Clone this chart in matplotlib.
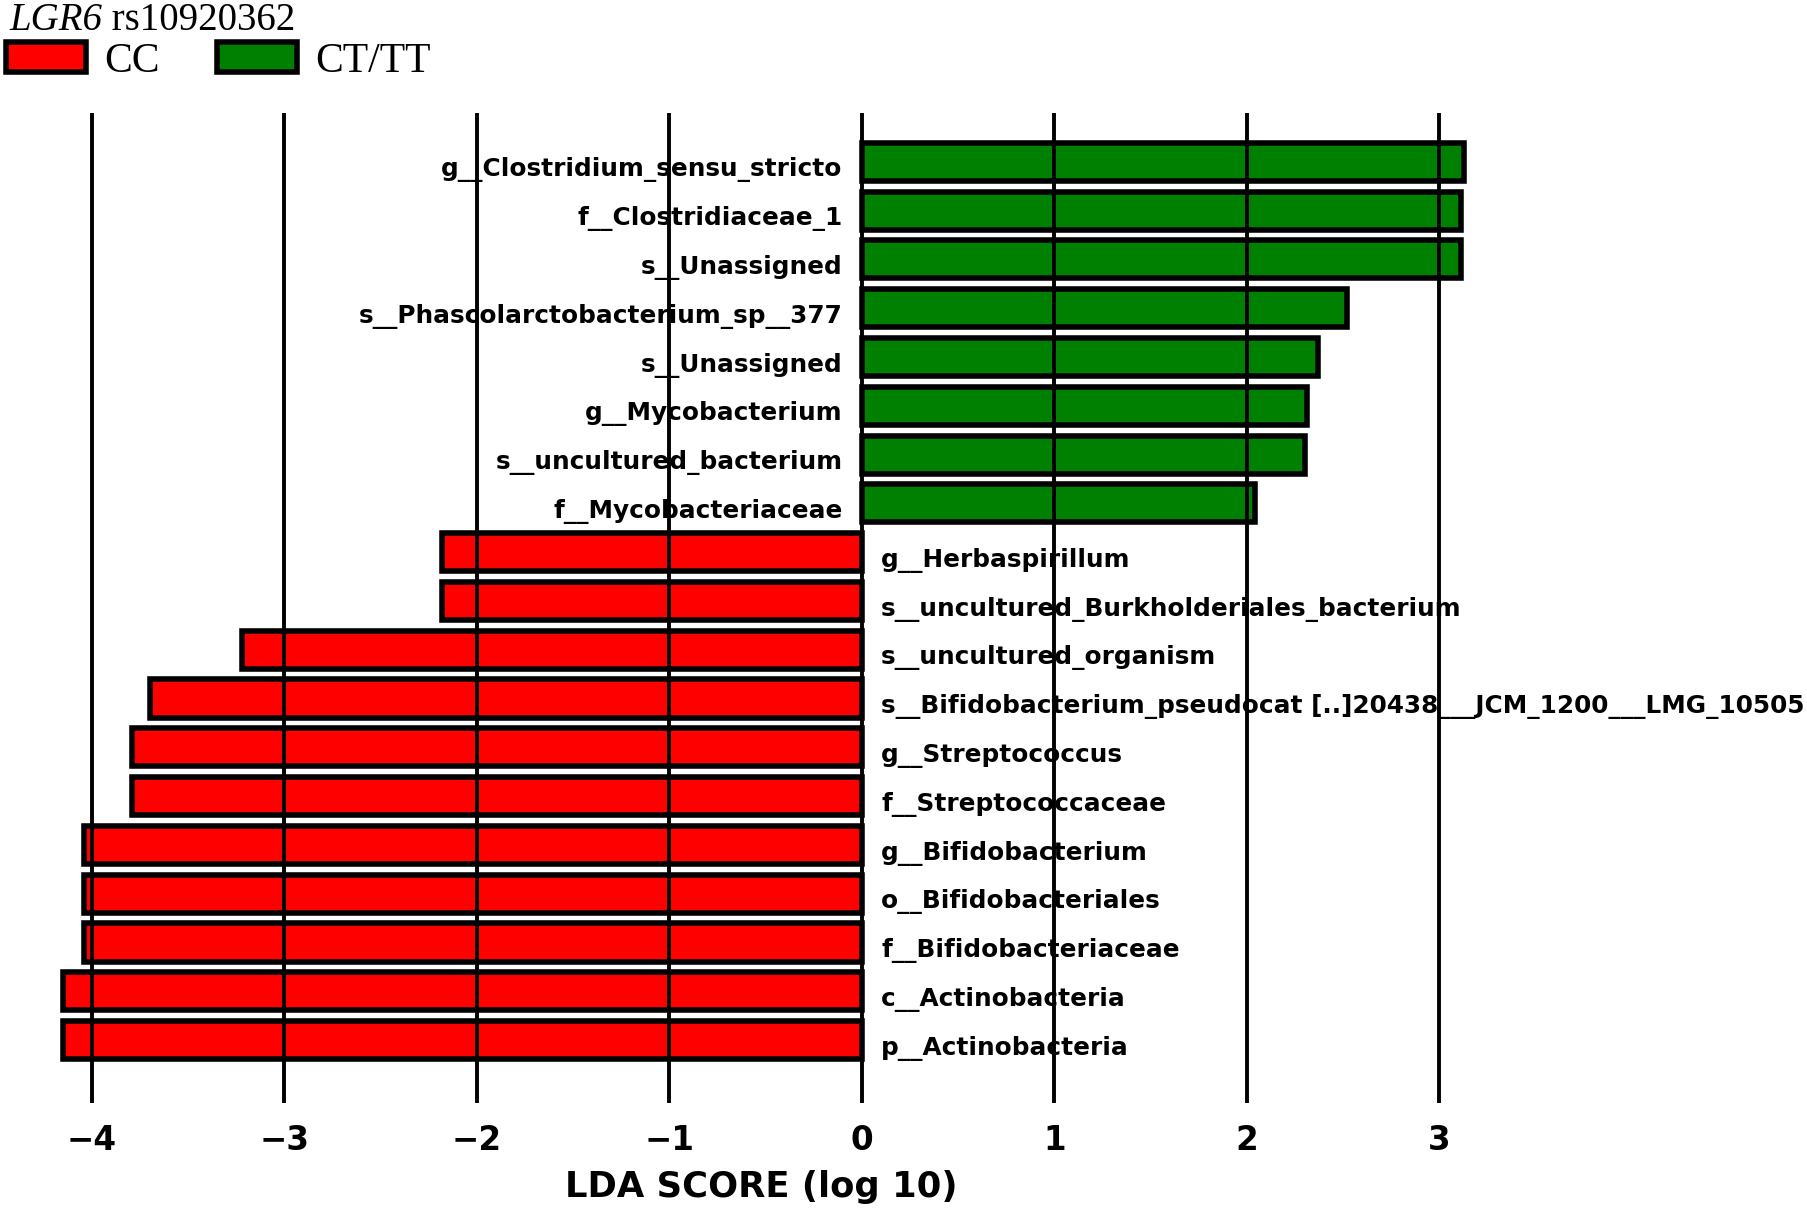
import matplotlib
matplotlib.use("Agg")
import matplotlib.pyplot as plt
from matplotlib.patches import Patch

plt.rcParams['font.family'] = ['DejaVu Sans']

# features, top to bottom as drawn
features = [
    "g__Clostridium_sensu_stricto",
    "f__Clostridiaceae_1",
    "s__Unassigned",
    "s__Phascolarctobacterium_sp__377",
    "s__Unassigned",
    "g__Mycobacterium",
    "s__uncultured_bacterium",
    "f__Mycobacteriaceae",
    "g__Herbaspirillum",
    "s__uncultured_Burkholderiales_bacterium",
    "s__uncultured_organism",
    "s__Bifidobacterium_pseudocat [..]20438___JCM_1200___LMG_10505",
    "g__Streptococcus",
    "f__Streptococcaceae",
    "g__Bifidobacterium",
    "o__Bifidobacteriales",
    "f__Bifidobacteriaceae",
    "c__Actinobacteria",
    "p__Actinobacteria",
]
lda = [3.13, 3.11, 3.11, 2.52, 2.37, 2.31, 2.30, 2.04,
       -2.18, -2.18, -3.22, -3.70, -3.79, -3.79,
       -4.04, -4.04, -4.04, -4.15, -4.15]
groups = ["CC", "CT/TT"]
group_colors = {"CC": "#ff0000", "CT/TT": "#008000"}
xticks = [-4, -3, -2, -1, 0, 1, 2, 3]

fig = plt.figure(figsize=(18.07, 12.14), dpi=100)
ax = fig.add_axes([30/1807, 1 - 1103/1214, 1770/1807, 990/1214])

n = len(features)
ypos = [n - 1 - i for i in range(n)]
cols = [group_colors["CT/TT"] if v > 0 else group_colors["CC"] for v in lda]

ax.barh(ypos, lda, height=0.78, color=cols, edgecolor="k", linewidth=4, zorder=1)

for y, v, name in zip(ypos, lda, features):
    if v > 0:
        ax.text(-0.1, y - 0.3, name, ha="right", va="baseline",
                fontsize=17.8, fontweight="bold", zorder=2)
    else:
        ax.text(0.1, y - 0.3, name, ha="left", va="baseline",
                fontsize=17.8, fontweight="bold", zorder=2)

ax.set_xlim(-4.322, 4.873)
ax.set_ylim(-1.29, n - 1 + 1.0)
ax.set_xticks(xticks)
ax.set_xticklabels(["\u2212%d" % -t if t < 0 else "%d" % t for t in xticks],
                   fontsize=23.5, fontweight="bold")
ax.set_yticks([])
ax.tick_params(axis="x", length=0, pad=15)
ax.grid(axis="x", color="k", linestyle="-", linewidth=2.8)
ax.set_axisbelow(False)
for s in ax.spines.values():
    s.set_visible(False)
ax.set_xlabel("LDA SCORE (log 10)", fontsize=25.5, fontweight="bold", labelpad=12)
ax.xaxis.set_label_coords(0.413, -0.068)

# legend header
serif = ["Liberation Serif", "DejaVu Serif"]
t = fig.text(9/1807, 1 - 30/1214, "LGR6", family=serif, style="italic",
             fontsize=28, va="baseline")
ann = plt.annotate(" rs10920362", xy=(1, 0), xycoords=t, va="bottom",
                   family=serif, fontsize=28, annotation_clip=False)

handles = [Patch(facecolor=group_colors[g], edgecolor="k", linewidth=4) for g in groups]
fig.legend(handles, groups, loc="upper left",
           bbox_to_anchor=(6/1807, 1 - 42/1214), ncol=2, frameon=False,
           prop={"family": serif, "size": 30}, handlelength=1.92,
           handleheight=0.72, handletextpad=0.43, columnspacing=1.39,
           borderpad=0, borderaxespad=0)

plt.savefig("out.png", dpi=100)
